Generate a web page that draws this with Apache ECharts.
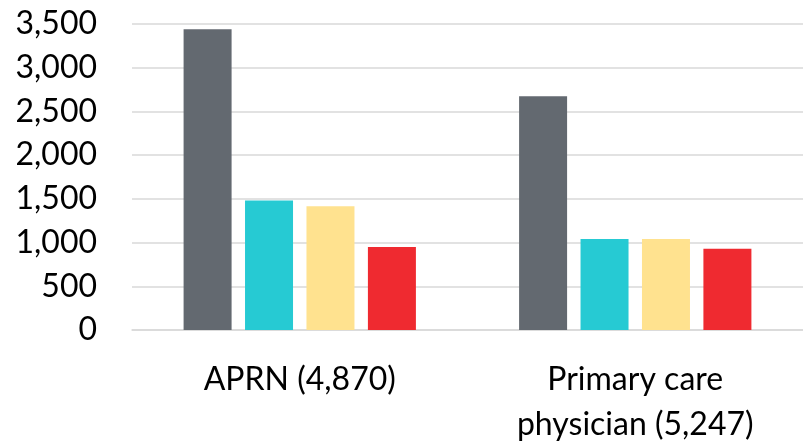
<!DOCTYPE html>
<html>
<head>
<meta charset="utf-8">
<script src="https://cdn.jsdelivr.net/npm/echarts@6/dist/echarts.min.js"></script>
<style>html,body{margin:0;padding:0;background:#fff;}#c{width:803px;height:447px;}</style>
</head>
<body>
<div id="c"></div>
<script>
const categories = ['APRN (4,870)', 'Primary care\nphysician (5,247)'];
const series1 = [3440, 2675];
const series2 = [1480, 1042];
const series3 = [1415, 1040];
const series4 = [950, 930];
const colors = ['#636970', '#26CAD3', '#FFE28F', '#EF2A30'];
const yTicks = { min: 0, max: 3500, interval: 500 };

const chart = echarts.init(document.getElementById('c'));
const font = 'Lato, "Noto Sans", sans-serif';
chart.setOption({
  animation: false,
  grid: { left: 132, right: -5, top: 24, bottom: 114, containLabel: false },
  xAxis: {
    type: 'category',
    data: categories,
    axisLine: { show: true, lineStyle: { color: '#d9d9d9', width: 1.5 } },
    axisTick: { show: false },
    axisLabel: { color: '#000', fontFamily: font, fontSize: 32, lineHeight: 45, margin: 27, interval: 0 }
  },
  yAxis: {
    type: 'value',
    min: yTicks.min, max: yTicks.max, interval: yTicks.interval,
    axisLine: { show: false },
    axisTick: { show: false },
    splitLine: { lineStyle: { color: '#d9d9d9', width: 1.5 } },
    axisLabel: {
      color: '#000', fontFamily: font, fontSize: 32, margin: 35,
      formatter: v => v.toLocaleString('en-US')
    }
  },
  series: [series1, series2, series3, series4].map((d, i) => ({
    type: 'bar',
    data: d,
    barWidth: 48,
    barGap: '28%',
    itemStyle: { color: colors[i] }
  }))
});
</script>
</body>
</html>
